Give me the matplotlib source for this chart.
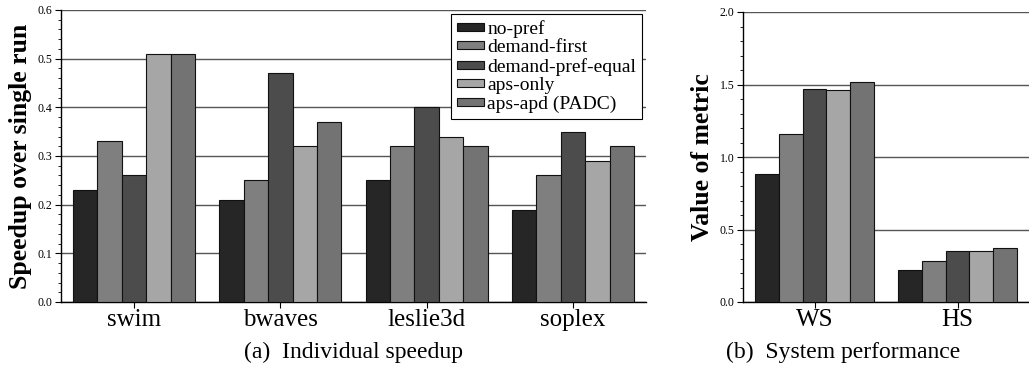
import numpy as np
import matplotlib
matplotlib.use("Agg")
import matplotlib.pyplot as plt
from matplotlib.patches import Patch
from matplotlib.ticker import MultipleLocator

plt.rcParams['font.family'] = ['Liberation Serif', 'DejaVu Serif']

# data
series = ['no-pref', 'demand-first', 'demand-pref-equal', 'aps-only', 'aps-apd (PADC)']
colors = ['#262626', '#7f7f7f', '#4c4c4c', '#a6a6a6', '#737373']

bench = ['swim', 'bwaves', 'leslie3d', 'soplex']
speedup = [
    [0.23, 0.21, 0.25, 0.19],   # no-pref
    [0.33, 0.25, 0.32, 0.26],   # demand-first
    [0.26, 0.47, 0.40, 0.35],   # demand-pref-equal
    [0.51, 0.32, 0.34, 0.29],   # aps-only
    [0.51, 0.37, 0.32, 0.32],   # aps-apd (PADC)
]

metrics = ['WS', 'HS']
sysperf = [
    [0.88, 0.22],
    [1.16, 0.28],
    [1.47, 0.35],
    [1.46, 0.35],
    [1.52, 0.37],
]

W, H = 1029, 375
fig = plt.figure(figsize=(W / 100, H / 100), dpi=100)

ax1 = fig.add_axes([61 / W, 1 - 302 / H, (646 - 61) / W, (302 - 10) / H])
ax2 = fig.add_axes([743 / W, 1 - 302 / H, (1029 - 743) / W, (302 - 12) / H])

bw = 0.167


def draw(ax, cats, vals, ymax, major, minor):
    x = np.arange(len(cats))
    for i, v in enumerate(vals):
        ax.bar(x + (i - 2) * bw, v, bw, color=colors[i], edgecolor='#111111',
               linewidth=0.8, zorder=3, label=series[i])
    ax.set_xlim(-0.5, len(cats) - 0.5)
    ax.set_ylim(0, ymax)
    ax.yaxis.set_major_locator(MultipleLocator(major))
    ax.yaxis.set_minor_locator(MultipleLocator(minor))
    ax.yaxis.grid(True, color='#555555', linewidth=1.0, zorder=0)
    ax.set_xticks(x)
    ax.set_xticklabels(cats, fontsize=18)
    ax.tick_params(axis='x', length=4, width=0.8, pad=1)
    ax.tick_params(axis='y', which='major', labelsize=8.5, length=4, width=0.8, pad=2)
    ax.tick_params(axis='y', which='minor', length=2, width=0.6)
    ax.spines['top'].set_visible(False)
    ax.spines['right'].set_visible(False)
    for s in ('left', 'bottom'):
        ax.spines[s].set_linewidth(1.0)
    ax.yaxis.set_major_formatter(matplotlib.ticker.FormatStrFormatter('%.1f'))


draw(ax1, bench, speedup, 0.6, 0.1, 0.02)
draw(ax2, metrics, sysperf, 2.0, 0.5, 0.1)

ax1.set_ylabel('Speedup over single run', fontsize=18.5, fontweight='bold', labelpad=4)
ax2.set_ylabel('Value of metric', fontsize=18.5, fontweight='bold', labelpad=4)

handles = [Patch(facecolor=c, edgecolor='#111111', linewidth=0.8) for c in colors]
leg = ax1.legend(handles, series, loc='upper right', bbox_to_anchor=(1.0, 1.0),
                 fontsize=14, frameon=True, fancybox=False, framealpha=1,
                 edgecolor='black', handlelength=1.4, handleheight=0.25,
                 handletextpad=0.15, labelspacing=0.08, borderpad=0.3,
                 borderaxespad=0.2)
leg.get_frame().set_linewidth(0.8)
leg.set_zorder(5)

fig.text(353 / W, 1 - 352 / H, '(a)  Individual speedup', fontsize=17,
         ha='center', va='center')
fig.text(843 / W, 1 - 352 / H, '(b)  System performance', fontsize=17,
         ha='center', va='center')

fig.savefig('out.png', dpi=100)
